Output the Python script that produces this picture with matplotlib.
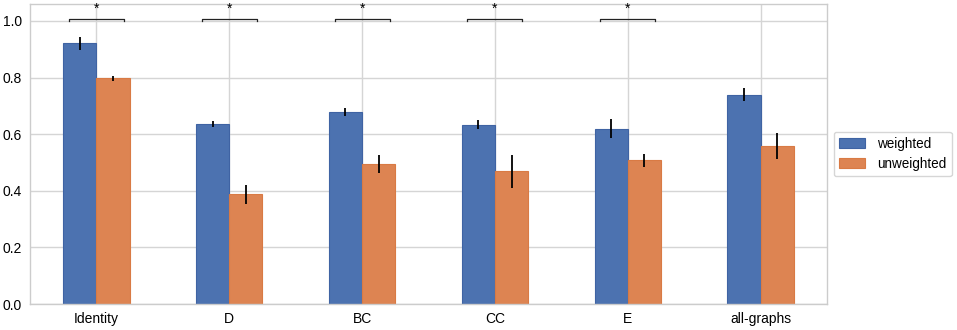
import matplotlib
matplotlib.use("Agg")
import matplotlib.pyplot as plt
import numpy as np

categories = ["Identity", "D", "BC", "CC", "E", "all-graphs"]
weighted = [0.922, 0.637, 0.678, 0.634, 0.620, 0.740]
weighted_err = [0.023, 0.010, 0.013, 0.017, 0.033, 0.024]
unweighted = [0.797, 0.388, 0.496, 0.469, 0.508, 0.559]
unweighted_err = [0.008, 0.034, 0.032, 0.059, 0.023, 0.045]
significant = [True, True, True, True, True, False]

plt.rcParams['font.family'] = ['Liberation Sans', 'DejaVu Sans']
fig = plt.figure(figsize=(9.57, 3.3), dpi=100)
ax = fig.add_axes([30/957, 26/330, 797/957, 300/330])

x = np.arange(len(categories))
w = 0.25
blue = "#4C72B0"
orange = "#DD8452"
ax.set_axisbelow(True)
ax.grid(True, color="#d5d5d5", linewidth=1.0)
ax.bar(x - w/2, weighted, w, yerr=weighted_err, color=blue, edgecolor="#3f63a3",
       linewidth=0.8, label="weighted", error_kw=dict(ecolor="black", elinewidth=1.3, capsize=0))
ax.bar(x + w/2, unweighted, w, yerr=unweighted_err, color=orange, edgecolor="#d97a44",
       linewidth=0.8, label="unweighted", error_kw=dict(ecolor="black", elinewidth=1.3, capsize=0))

for xi, s in zip(x, significant):
    if s:
        ax.plot([xi - 0.207, xi - 0.207, xi + 0.207, xi + 0.207], [1.0, 1.007, 1.007, 1.0],
                color="#222222", linewidth=0.9)
        ax.text(xi, 1.02, "*", ha="center", va="bottom", fontsize=10)

ax.set_xlim(-0.5, 5.5)
ax.set_ylim(0, 1.06)
ax.set_xticks(x)
ax.set_xticklabels(categories)
ax.set_yticks([0.0, 0.2, 0.4, 0.6, 0.8, 1.0])
ax.set_yticklabels(["0.0", "0.2", "0.4", "0.6", "0.8", "1.0"])
ax.tick_params(length=0, labelsize=10, pad=6)
for sp in ax.spines.values():
    sp.set_color("#cccccc")
    sp.set_linewidth(1.0)

leg = ax.legend(loc="center left", bbox_to_anchor=(1.0, 0.5), fontsize=9.75,
                frameon=True, edgecolor="#cccccc", handlelength=1.93, handleheight=0.74,
                handletextpad=0.9, labelspacing=0.43, borderaxespad=0.5)

fig.savefig("out.png", dpi=100)
